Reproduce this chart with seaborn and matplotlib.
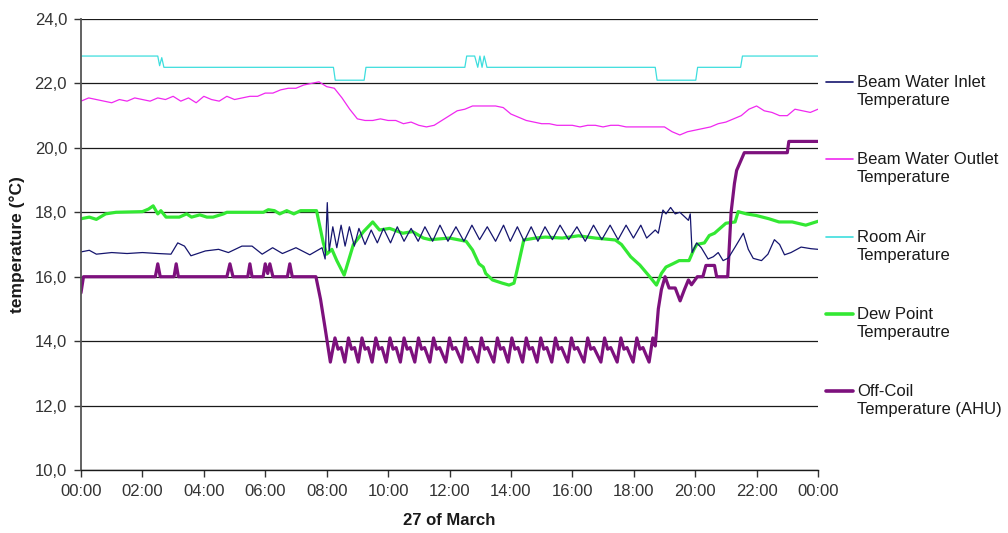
import numpy as np
import pandas as pd
import matplotlib
matplotlib.use("Agg")
import matplotlib.pyplot as plt
from matplotlib.lines import Line2D
import seaborn as sns

# lecturas (hora del día, temperatura en °C) del 27 de marzo
room_air = [(0, 22.85), (2.5, 22.85), (2.56, 22.55), (2.63, 22.8), (2.7, 22.5), (8.22, 22.5), (8.28, 22.1),
            (9.22, 22.1), (9.28, 22.5), (12.5, 22.5), (12.56, 22.85), (12.82, 22.85), (12.92, 22.5), (12.99, 22.85),
            (13.06, 22.5), (13.13, 22.85), (13.22, 22.5), (18.7, 22.5), (18.76, 22.1), (20.02, 22.1), (20.08, 22.5),
            (21.48, 22.5), (21.54, 22.85), (24, 22.85)]

# salida del agua de la viga, una lectura cada 15 min
outlet_hours = np.arange(0, 24.01, 0.25)
outlet_vals = [21.45, 21.55, 21.5, 21.45, 21.4, 21.5, 21.45, 21.55, 21.5, 21.45, 21.55, 21.5,
               21.6, 21.45, 21.55, 21.4, 21.6, 21.5, 21.45, 21.6, 21.5, 21.55, 21.6, 21.6,
               21.7, 21.7, 21.8, 21.85, 21.85, 21.95, 22.0, 22.05, 21.9, 21.85, 21.55, 21.2,
               20.9, 20.85, 20.85, 20.9, 20.85, 20.85, 20.75, 20.8, 20.7, 20.65, 20.7, 20.85,
               21.0, 21.15, 21.2, 21.3, 21.3, 21.3, 21.3, 21.25, 21.05, 20.95, 20.85, 20.8,
               20.75, 20.75, 20.7, 20.7, 20.7, 20.65, 20.7, 20.7, 20.65, 20.7, 20.7, 20.65,
               20.65, 20.65, 20.65, 20.65, 20.65, 20.5, 20.4, 20.5, 20.55, 20.6, 20.65, 20.75,
               20.8, 20.9, 21.0, 21.2, 21.3, 21.15, 21.1, 21.0, 21.0, 21.2, 21.15, 21.1, 21.2]

inlet = [(0, 16.77), (0.27, 16.82), (0.5, 16.7), (1.0, 16.75), (1.5, 16.72), (2.0, 16.75), (2.5, 16.72),
         (2.93, 16.7), (3.15, 17.05), (3.37, 16.95), (3.58, 16.65), (4.05, 16.8), (4.48, 16.85), (4.8, 16.75),
         (5.24, 16.95), (5.57, 16.95), (5.9, 16.7), (6.24, 16.9), (6.56, 16.72), (7.0, 16.9), (7.45, 16.68),
         (7.85, 16.9), (7.95, 16.55), (8.02, 18.3), (8.08, 16.8),
         (8.2, 17.55), (8.33, 16.9), (8.47, 17.6), (8.6, 16.95), (8.74, 17.55), (8.9, 16.95), (9.05, 17.5),
         (9.25, 17.0), (9.45, 17.45), (9.65, 17.05), (9.85, 17.5), (10.08, 17.05), (10.3, 17.55), (10.52, 17.1),
         (10.75, 17.5), (10.98, 17.1), (11.2, 17.55), (11.45, 17.1), (11.69, 17.6), (11.95, 17.1), (12.21, 17.55),
         (12.47, 17.1), (12.73, 17.6), (12.98, 17.15), (13.23, 17.55), (13.5, 17.1), (13.76, 17.6), (13.98, 17.1),
         (14.21, 17.55), (14.43, 17.1), (14.66, 17.55), (14.88, 17.1), (15.11, 17.55), (15.35, 17.15), (15.6, 17.6),
         (15.88, 17.15), (16.15, 17.55), (16.42, 17.1), (16.69, 17.6), (16.96, 17.15), (17.23, 17.6), (17.49, 17.15),
         (17.75, 17.6), (17.99, 17.2), (18.23, 17.6), (18.42, 17.2), (18.7, 17.45), (18.8, 17.35),
         (18.95, 18.07), (19.05, 17.95), (19.2, 18.15), (19.35, 17.95), (19.5, 18.0), (19.67, 17.85), (19.78, 17.75),
         (19.84, 17.95), (19.9, 16.75), (20.05, 17.05), (20.2, 16.9), (20.42, 16.55), (20.59, 16.62), (20.75, 16.75),
         (20.91, 16.5), (21.08, 16.58), (21.3, 16.92), (21.57, 17.35), (21.73, 16.85), (21.89, 16.57), (22.16, 16.5),
         (22.37, 16.7), (22.58, 17.15), (22.75, 17.0), (22.91, 16.68), (23.12, 16.75), (23.45, 16.92), (23.77, 16.87),
         (24.0, 16.85)]

dew_point = [(0, 17.8), (0.27, 17.85), (0.5, 17.78), (0.8, 17.95), (1.14, 18.0), (2.0, 18.02), (2.2, 18.1),
             (2.35, 18.2), (2.5, 17.95), (2.6, 18.05), (2.77, 17.85), (3.2, 17.85), (3.44, 17.95), (3.6, 17.85),
             (3.87, 17.92), (4.1, 17.85), (4.3, 17.85), (4.64, 17.95), (4.75, 18.0), (5.94, 18.0), (6.1, 18.08),
             (6.3, 18.05), (6.47, 17.95), (6.7, 18.05), (6.93, 17.95), (7.15, 18.05), (7.67, 18.05), (7.89, 17.05),
             (8.0, 16.7), (8.17, 16.85), (8.33, 16.5), (8.57, 16.05), (8.87, 17.0), (9.2, 17.4), (9.5, 17.7),
             (9.72, 17.45), (10.05, 17.5), (10.48, 17.35), (10.8, 17.4), (11.15, 17.2), (11.37, 17.15), (12.0, 17.2),
             (12.54, 17.1), (12.75, 16.83), (12.96, 16.4), (13.1, 16.3), (13.18, 16.1), (13.4, 15.9), (13.72, 15.8),
             (13.94, 15.74), (14.1, 15.8), (14.2, 16.2), (14.42, 17.14), (14.8, 17.2), (15.12, 17.23), (15.67, 17.2),
             (16.2, 17.27), (16.75, 17.2), (17.4, 17.14), (17.6, 17.0), (17.9, 16.62), (18.2, 16.36), (18.52, 16.0),
             (18.74, 15.74), (18.9, 16.1), (19.05, 16.3), (19.27, 16.4), (19.48, 16.5), (19.8, 16.5), (19.95, 16.83),
             (20.05, 17.0), (20.3, 17.05), (20.46, 17.28), (20.63, 17.35), (21.0, 17.66), (21.3, 17.7), (21.4, 18.02),
             (21.67, 17.95), (21.99, 17.9), (22.4, 17.8), (22.73, 17.7), (23.16, 17.7), (23.6, 17.6), (24.0, 17.72)]

off_coil = [(0, 15.5), (0.08, 16.0), (2.42, 16.0), (2.5, 16.4), (2.58, 16.0), (3.03, 16.0), (3.1, 16.4), (3.17, 16.0),
            (4.75, 16.0), (4.85, 16.4), (4.95, 16.0), (5.43, 16.0), (5.5, 16.4), (5.57, 16.0), (5.93, 16.0),
            (6.0, 16.4), (6.08, 16.1), (6.15, 16.4), (6.25, 16.0), (6.72, 16.0), (6.8, 16.4), (6.88, 16.0),
            (7.65, 16.0), (7.8, 15.3), (7.95, 14.4), (8.12, 13.35),
            (8.27, 14.1), (8.37, 13.75), (8.47, 13.8), (8.59, 13.35),
            (8.71, 14.1), (8.81, 13.75), (8.91, 13.8), (9.03, 13.35),
            (9.15, 14.1), (9.25, 13.75), (9.35, 13.8), (9.48, 13.35),
            (9.6, 14.1), (9.7, 13.75), (9.8, 13.8), (9.94, 13.35),
            (10.06, 14.1), (10.16, 13.75), (10.26, 13.8), (10.4, 13.35),
            (10.52, 14.1), (10.62, 13.75), (10.72, 13.8), (10.87, 13.35),
            (10.99, 14.1), (11.09, 13.75), (11.19, 13.8), (11.36, 13.35),
            (11.48, 14.1), (11.58, 13.75), (11.68, 13.8), (11.88, 13.35),
            (12.0, 14.1), (12.1, 13.75), (12.2, 13.8), (12.4, 13.35),
            (12.52, 14.1), (12.62, 13.75), (12.72, 13.8), (12.92, 13.35),
            (13.04, 14.1), (13.14, 13.75), (13.24, 13.8), (13.44, 13.35),
            (13.56, 14.1), (13.66, 13.75), (13.76, 13.8), (13.91, 13.35),
            (14.03, 14.1), (14.13, 13.75), (14.23, 13.8), (14.38, 13.35),
            (14.5, 14.1), (14.6, 13.75), (14.7, 13.8), (14.85, 13.35),
            (14.97, 14.1), (15.07, 13.75), (15.17, 13.8), (15.33, 13.35),
            (15.45, 14.1), (15.55, 13.75), (15.65, 13.8), (15.85, 13.35),
            (15.97, 14.1), (16.07, 13.75), (16.17, 13.8), (16.38, 13.35),
            (16.5, 14.1), (16.6, 13.75), (16.7, 13.8), (16.93, 13.35),
            (17.05, 14.1), (17.15, 13.75), (17.25, 13.8), (17.46, 13.35),
            (17.58, 14.1), (17.68, 13.75), (17.78, 13.8), (17.98, 13.35),
            (18.1, 14.1), (18.2, 13.75), (18.3, 13.8), (18.5, 13.35),
            (18.62, 14.1), (18.7, 13.85), (18.8, 15.0), (18.9, 15.6), (19.02, 16.0), (19.15, 15.65), (19.35, 15.65),
            (19.51, 15.25), (19.65, 15.6), (19.78, 15.9), (19.88, 15.75), (20.07, 16.0), (20.25, 16.0), (20.35, 16.35),
            (20.63, 16.35), (20.7, 16.0), (21.06, 16.0), (21.17, 18.0), (21.28, 18.9), (21.35, 19.3), (21.44, 19.5),
            (21.6, 19.85), (23.0, 19.85), (23.05, 20.2), (24.0, 20.2)]

series_names = ['Beam Water Inlet\nTemperature', 'Beam Water Outlet\nTemperature', 'Room Air\nTemperature',
                'Dew Point\nTemperautre', 'Off-Coil\nTemperature (AHU)']
colores = ['#15156e', '#f028f0', '#3ddede', '#33e833', '#7d117d']
grosores = [0.9, 0.9, 0.9, 2.3, 2.3]

y_ticks = [10, 12, 14, 16, 18, 20, 22, 24]
x_ticks = list(range(0, 25, 2))
x_tick_labels = ['00:00', '02:00', '04:00', '06:00', '08:00', '10:00', '12:00',
                 '14:00', '16:00', '18:00', '20:00', '22:00', '00:00']

# armar el dataframe largo
partes = [
    pd.DataFrame(inlet, columns=['hour', 'temp']).assign(serie=series_names[0]),
    pd.DataFrame({'hour': outlet_hours, 'temp': outlet_vals}).assign(serie=series_names[1]),
    pd.DataFrame(room_air, columns=['hour', 'temp']).assign(serie=series_names[2]),
    pd.DataFrame(dew_point, columns=['hour', 'temp']).assign(serie=series_names[3]),
    pd.DataFrame(off_coil, columns=['hour', 'temp']).assign(serie=series_names[4]),
]
df = pd.concat(partes, ignore_index=True)

sns.set_style('white')
plt.rcParams['font.family'] = ['Liberation Sans', 'DejaVu Sans']

fig = plt.figure(figsize=(10.08, 5.33), dpi=100)
ax = fig.add_axes([81 / 1008, 1 - 470 / 533, 737 / 1008, 451 / 533])

# orden de dibujo: las finas primero
for name in [series_names[2], series_names[1], series_names[3], series_names[4], series_names[0]]:
    i = series_names.index(name)
    sns.lineplot(data=df[df['serie'] == name], x='hour', y='temp', color=colores[i], linewidth=grosores[i],
                 estimator=None, sort=False, legend=False, ax=ax)

ax.set_xlim(0, 24)
ax.set_ylim(10, 24)
ax.set_yticks(y_ticks)
ax.set_yticklabels([f"{v:.1f}".replace('.', ',') for v in y_ticks])
ax.set_xticks(x_ticks)
ax.set_xticklabels(x_tick_labels)
ax.tick_params(axis='both', labelsize=12, labelcolor='#333333', color='#333333',
               length=5, width=1, direction='out', pad=5)
ax.tick_params(axis='y', left=True)
ax.tick_params(axis='x', bottom=True)
ax.yaxis.grid(True, color='#1a1a1a', linewidth=0.9)
ax.xaxis.grid(False)
for s in ['top', 'right']:
    ax.spines[s].set_visible(False)
ax.spines['left'].set_color('#555555')
ax.spines['left'].set_linewidth(1.3)
ax.spines['bottom'].set_color('#1a1a1a')
ax.spines['bottom'].set_linewidth(1.0)

ax.set_xlabel('27 of March', fontsize=12, fontweight='bold', color='#1a1a1a')
ax.set_ylabel('temperature (°C)', fontsize=12.5, fontweight='bold', color='#1a1a1a')
ax.xaxis.set_label_coords(0.5, -0.095)
ax.yaxis.set_label_coords(-0.076, 0.5)

# leyenda a mano, con la muestra alineada a la primera línea del texto
legend_y = [82, 159, 237, 314, 391]
for i, name in enumerate(series_names):
    yf = 1 - legend_y[i] / 533
    fig.add_artist(Line2D([826 / 1008, 853 / 1008], [yf, yf], transform=fig.transFigure,
                          color=colores[i], linewidth=grosores[i] + 0.3))
    fig.text(857 / 1008, 1 - (legend_y[i] + 9.5) / 533, name, fontsize=12, va='center', ha='left',
             linespacing=1.25, color='#1a1a1a')

fig.savefig('out.png', dpi=100)
